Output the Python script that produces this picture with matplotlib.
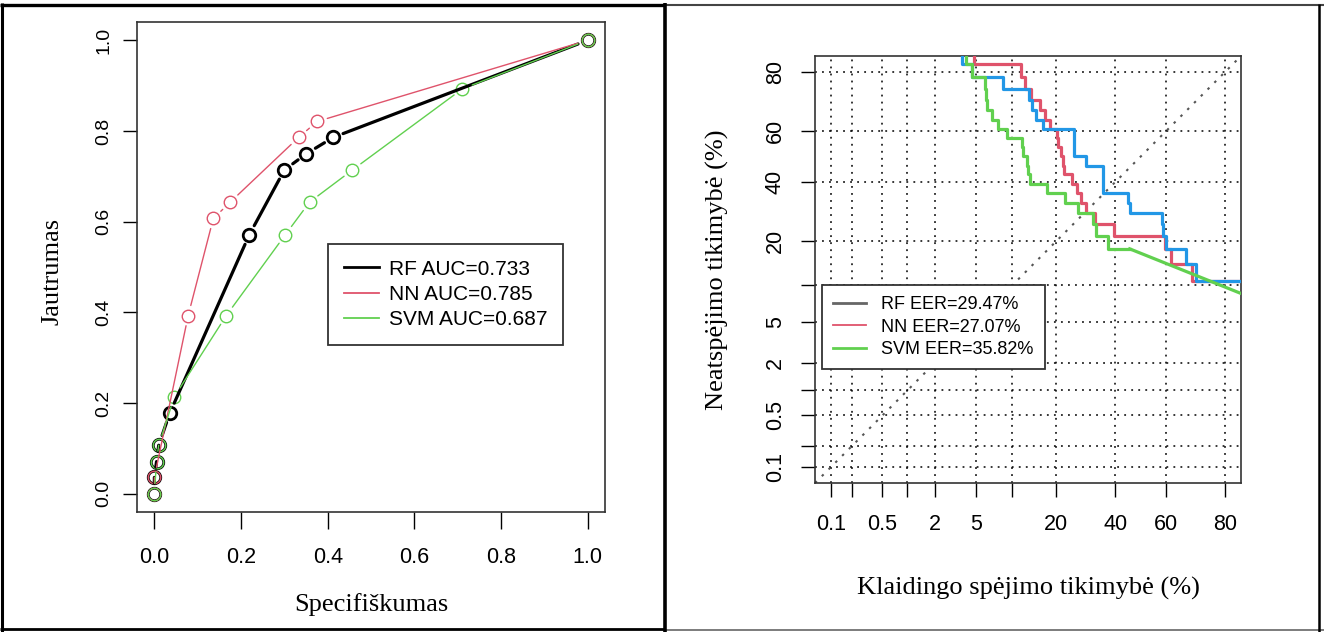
import matplotlib
matplotlib.use('Agg')
import matplotlib.pyplot as plt
import numpy as np
from statistics import NormalDist
from matplotlib.lines import Line2D

# ROC curves (left panel): x = 1 - specificity, y = sensitivity
rf_fpr = [0.0, 0.0, 0.005, 0.01, 0.036, 0.219, 0.30, 0.351, 0.413, 1.0]
rf_tpr = [0.0, 0.036, 0.071, 0.107, 0.179, 0.571, 0.714, 0.75, 0.786, 1.0]
nn_fpr = [0.0, 0.0, 0.078, 0.136, 0.175, 0.333, 0.376, 1.0]
nn_tpr = [0.0, 0.036, 0.393, 0.607, 0.643, 0.786, 0.821, 1.0]
svm_fpr = [0.0, 0.005, 0.01, 0.046, 0.166, 0.302, 0.358, 0.457, 0.711, 1.0]
svm_tpr = [0.0, 0.071, 0.107, 0.214, 0.393, 0.571, 0.643, 0.714, 0.893, 1.0]
roc_labels = ['RF AUC=0.733', 'NN AUC=0.785', 'SVM AUC=0.687']

# DET curves (right panel), percent; each point = (false alarm where level starts, miss level)
rf_fa = [3.7, 3.7, 4.6, 8.5, 13.3, 13.9, 14.8, 16.6, 25.3, 29.4, 35.3, 45.0, 45.6,
         58.3, 58.9, 60.0, 67.5, 71.0, 95.0]
rf_miss = [95.0, 82.1, 78.6, 75.0, 71.4, 67.9, 64.3, 60.7, 50.0, 46.4, 35.7, 32.1, 28.6,
           25.0, 21.4, 17.9, 14.3, 10.7, 10.7]
nn_fa = [4.8, 4.8, 11.7, 12.4, 13.7, 15.8, 17.0, 18.3, 20.1, 20.5, 21.2, 21.8, 22.2,
         24.5, 26.1, 27.7, 29.2, 32.3, 39.5, 59.4, 61.9, 69.5, 95.0]
nn_miss = [95.0, 82.1, 78.6, 75.0, 71.4, 67.9, 64.3, 60.7, 57.1, 53.6, 50.0, 46.4, 42.9,
           39.3, 35.7, 32.1, 28.6, 25.0, 21.4, 17.9, 14.3, 10.7, 10.7]
svm_fa = [4.1, 4.1, 4.6, 6.0, 6.1, 6.2, 6.9, 7.8, 9.1, 11.8, 12.1, 12.8, 13.1, 13.5,
          17.4, 22.5, 26.6, 31.7, 32.9, 37.2, 45.6]
svm_miss = [95.0, 82.1, 78.6, 75.0, 71.4, 67.9, 64.3, 60.7, 57.1, 53.6, 50.0, 46.4, 42.9,
            39.3, 35.7, 32.1, 28.6, 25.0, 21.4, 17.9, 17.9]
svm_tail_fa = [45.6, 90.0]
svm_tail_miss = [17.9, 7.0]
det_labels = ['RF EER=29.47%', 'NN EER=27.07%', 'SVM EER=35.82%']

det_ticks = [0.1, 0.2, 0.5, 1, 2, 5, 10, 20, 40, 60, 80]
det_ticklabels = ['0.1', '', '0.5', '', '2', '5', '', '20', '40', '60', '80']

RED = '#DF536B'
GREEN = '#61D04F'
BLUE = '#2297E6'
SANS = 'Liberation Sans'
SERIF = 'Liberation Serif'

_nd = NormalDist()


def probit(p):
    p = np.clip(np.asarray(p, dtype=float) / 100.0, 1e-9, 1 - 1e-9)
    return np.vectorize(_nd.inv_cdf, otypes=[float])(p)


def unprobit(z):
    return np.vectorize(_nd.cdf, otypes=[float])(np.asarray(z, dtype=float)) * 100.0


def roc_series(ax, xs, ys, color, lw, mew):
    # R type="b": lines with gaps around the points
    for i in range(len(xs) - 1):
        ax.annotate('', xy=(xs[i + 1], ys[i + 1]), xytext=(xs[i], ys[i]),
                    arrowprops=dict(arrowstyle='-', color=color, lw=lw,
                                    shrinkA=7.5, shrinkB=7.5))
    ax.plot(xs, ys, linestyle='none', marker='o', markersize=9,
            markerfacecolor='none', markeredgecolor=color, markeredgewidth=mew)


fig = plt.figure(figsize=(13.24, 6.32), dpi=100)

# ---------------- left: ROC ----------------
ax1 = fig.add_axes([0.1035, 0.190, 0.3535, 0.775])
roc_series(ax1, rf_fpr, rf_tpr, 'black', 2.3, 2.0)
roc_series(ax1, nn_fpr, nn_tpr, RED, 1.0, 1.0)
roc_series(ax1, svm_fpr, svm_tpr, GREEN, 1.0, 1.0)
ax1.set_xlim(-0.04, 1.04)
ax1.set_ylim(-0.04, 1.04)
ticks = [0.0, 0.2, 0.4, 0.6, 0.8, 1.0]
ax1.set_xticks(ticks)
ax1.set_xticklabels([f'{t:.1f}' for t in ticks], fontfamily=SANS, fontsize=15.5)
ax1.set_yticks(ticks)
ax1.set_yticklabels([f'{t:.1f}' for t in ticks], fontfamily=SANS, fontsize=14,
                    rotation=90, va='center')
ax1.tick_params(axis='x', length=12, width=1, pad=13)
ax1.tick_params(axis='y', length=10, width=1, pad=8)
for s in ax1.spines.values():
    s.set_linewidth(1.2)
    s.set_color('#333333')
ax1.set_xlabel('Specifiškumas', fontfamily=SERIF, fontsize=19, va='center')
ax1.xaxis.set_label_coords(0.5, -0.19)
ax1.set_ylabel('Jautrumas', fontfamily=SERIF, fontsize=19, va='center')
ax1.yaxis.set_label_coords(-0.18, 0.49)
h1 = [Line2D([], [], color='black', lw=2.0),
      Line2D([], [], color=RED, lw=1.3),
      Line2D([], [], color=GREEN, lw=1.3)]
leg1 = ax1.legend(h1, roc_labels, loc='upper left', bbox_to_anchor=(0.408, 0.547),
                  prop={'family': SANS, 'size': 15}, frameon=True, fancybox=False,
                  framealpha=1, edgecolor='#333333', handlelength=1.68, handletextpad=0.5,
                  borderpad=0.75, labelspacing=0.3, borderaxespad=0)
leg1.get_frame().set_linewidth(1.3)

# ---------------- right: DET ----------------
ax2 = fig.add_axes([0.6156, 0.2358, 0.3217, 0.6756])
ax2.set_xscale('function', functions=(probit, unprobit))
ax2.set_yscale('function', functions=(probit, unprobit))
lo, hi = probit(det_ticks[0]), probit(det_ticks[-1])
pad = 0.04 * (hi - lo)
lims = [float(unprobit(lo - pad)), float(unprobit(hi + pad))]
ax2.set_xlim(lims)
ax2.set_ylim(lims)

for t in det_ticks:
    ax2.axvline(t, color='black', lw=1.1, dashes=(1.2, 3.4), zorder=1)
    ax2.axhline(t, color='black', lw=1.1, dashes=(1.2, 3.4), zorder=1)
ax2.plot(lims, lims, color='#555555', lw=1.5, dashes=(1.2, 3.4), zorder=1)

ax2.plot(nn_fa, nn_miss, drawstyle='steps-post', color=RED, lw=2.3, zorder=3)
ax2.plot(rf_fa, rf_miss, drawstyle='steps-post', color=BLUE, lw=2.3, zorder=3)
ax2.plot(svm_fa, svm_miss, drawstyle='steps-post', color=GREEN, lw=2.3, zorder=3)
ax2.plot(svm_tail_fa, svm_tail_miss, color=GREEN, lw=2.3, zorder=3)

ax2.set_xticks(det_ticks)
ax2.set_xticklabels(det_ticklabels, fontfamily=SANS, fontsize=15.5)
ax2.set_yticks(det_ticks)
ax2.set_yticklabels(det_ticklabels, fontfamily=SANS, fontsize=15.5, rotation=90, va='center')
ax2.minorticks_off()
ax2.tick_params(axis='x', length=10, width=1, pad=12)
ax2.tick_params(axis='y', length=10, width=1, pad=11)
for s in ax2.spines.values():
    s.set_linewidth(1.2)
    s.set_color('#333333')
ax2.set_xlabel('Klaidingo spėjimo tikimybė (%)', fontfamily=SERIF, fontsize=19, va='center')
ax2.xaxis.set_label_coords(0.5, -0.246)
ax2.set_ylabel('Neatspėjimo tikimybė (%)', fontfamily=SERIF, fontsize=19, va='center')
ax2.yaxis.set_label_coords(-0.228, 0.499)
h2 = [Line2D([], [], color='#666666', lw=2.0),
      Line2D([], [], color=RED, lw=1.3),
      Line2D([], [], color=GREEN, lw=2.0)]
leg2 = ax2.legend(h2, det_labels, loc='upper left', bbox_to_anchor=(0.0164, 0.4637),
                  prop={'family': SANS, 'size': 13}, frameon=True, fancybox=False,
                  framealpha=1, edgecolor='#333333', handlelength=1.83, handletextpad=0.83,
                  borderpad=0.62, labelspacing=0.3, borderaxespad=0)
leg2.get_frame().set_linewidth(1.3)
leg2.set_zorder(5)


# table borders around the two panels
def border(x0, y0, x1, y1, lw, color):
    fig.add_artist(Line2D([x0 / 1324, x1 / 1324], [1 - y0 / 632, 1 - y1 / 632],
                          transform=fig.transFigure, color=color, lw=lw,
                          solid_capstyle='butt'))


border(0, 4.5, 665, 4.5, 2.4, 'black')
border(665, 5, 1324, 5, 1.5, '#444444')
border(0, 629, 665, 629, 2.0, 'black')
border(665, 629.5, 1324, 629.5, 1.2, '#666666')
border(2, 3, 2, 632, 2.2, 'black')
border(664.5, 3, 664.5, 632, 2.6, 'black')
border(1319, 4, 1319, 632, 1.8, 'black')

fig.savefig('out.png', dpi=100)
